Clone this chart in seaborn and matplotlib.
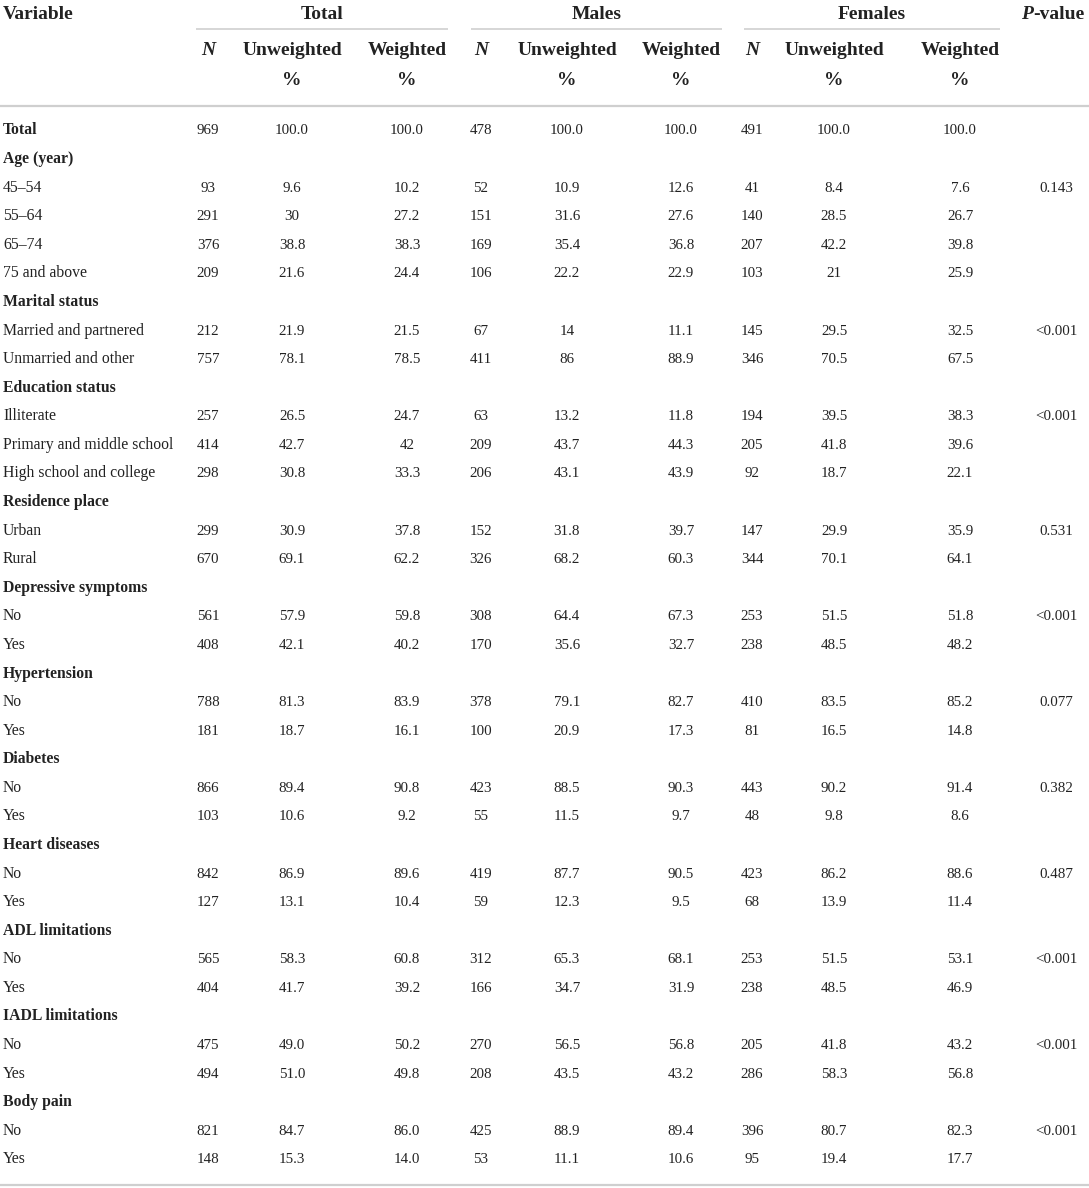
import matplotlib
matplotlib.use("Agg")
import matplotlib.pyplot as plt
import seaborn as sns

# row labels of the table, section rows have no values
row_labels = ["Total", "Age (year)", "45–54", "55–64", "65–74", "75 and above",
              "Marital status", "Married and partnered", "Unmarried and other",
              "Education status", "Illiterate", "Primary and middle school", "High school and college",
              "Residence place", "Urban", "Rural",
              "Depressive symptoms", "No", "Yes",
              "Hypertension", "No", "Yes",
              "Diabetes", "No", "Yes",
              "Heart diseases", "No", "Yes",
              "ADL limitations", "No", "Yes",
              "IADL limitations", "No", "Yes",
              "Body pain", "No", "Yes"]
bold_rows = ["Total", "Age (year)", "Marital status", "Education status", "Residence place",
             "Depressive symptoms", "Hypertension", "Diabetes", "Heart diseases",
             "ADL limitations", "IADL limitations", "Body pain"]

# Total
total_n = ["969", "", "93", "291", "376", "209", "", "212", "757", "", "257", "414", "298", "", "299", "670",
           "", "561", "408", "", "788", "181", "", "866", "103", "", "842", "127", "", "565", "404", "", "475", "494",
           "", "821", "148"]
total_unw = ["100.0", "", "9.6", "30", "38.8", "21.6", "", "21.9", "78.1", "", "26.5", "42.7", "30.8", "", "30.9", "69.1",
             "", "57.9", "42.1", "", "81.3", "18.7", "", "89.4", "10.6", "", "86.9", "13.1", "", "58.3", "41.7", "", "49.0", "51.0",
             "", "84.7", "15.3"]
total_w = ["100.0", "", "10.2", "27.2", "38.3", "24.4", "", "21.5", "78.5", "", "24.7", "42", "33.3", "", "37.8", "62.2",
           "", "59.8", "40.2", "", "83.9", "16.1", "", "90.8", "9.2", "", "89.6", "10.4", "", "60.8", "39.2", "", "50.2", "49.8",
           "", "86.0", "14.0"]

# Males
male_n = ["478", "", "52", "151", "169", "106", "", "67", "411", "", "63", "209", "206", "", "152", "326",
          "", "308", "170", "", "378", "100", "", "423", "55", "", "419", "59", "", "312", "166", "", "270", "208",
          "", "425", "53"]
male_unw = ["100.0", "", "10.9", "31.6", "35.4", "22.2", "", "14", "86", "", "13.2", "43.7", "43.1", "", "31.8", "68.2",
            "", "64.4", "35.6", "", "79.1", "20.9", "", "88.5", "11.5", "", "87.7", "12.3", "", "65.3", "34.7", "", "56.5", "43.5",
            "", "88.9", "11.1"]
male_w = ["100.0", "", "12.6", "27.6", "36.8", "22.9", "", "11.1", "88.9", "", "11.8", "44.3", "43.9", "", "39.7", "60.3",
          "", "67.3", "32.7", "", "82.7", "17.3", "", "90.3", "9.7", "", "90.5", "9.5", "", "68.1", "31.9", "", "56.8", "43.2",
          "", "89.4", "10.6"]

# Females
female_n = ["491", "", "41", "140", "207", "103", "", "145", "346", "", "194", "205", "92", "", "147", "344",
            "", "253", "238", "", "410", "81", "", "443", "48", "", "423", "68", "", "253", "238", "", "205", "286",
            "", "396", "95"]
female_unw = ["100.0", "", "8.4", "28.5", "42.2", "21", "", "29.5", "70.5", "", "39.5", "41.8", "18.7", "", "29.9", "70.1",
              "", "51.5", "48.5", "", "83.5", "16.5", "", "90.2", "9.8", "", "86.2", "13.9", "", "51.5", "48.5", "", "41.8", "58.3",
              "", "80.7", "19.4"]
female_w = ["100.0", "", "7.6", "26.7", "39.8", "25.9", "", "32.5", "67.5", "", "38.3", "39.6", "22.1", "", "35.9", "64.1",
            "", "51.8", "48.2", "", "85.2", "14.8", "", "91.4", "8.6", "", "88.6", "11.4", "", "53.1", "46.9", "", "43.2", "56.8",
            "", "82.3", "17.7"]

p_values = ["", "", "0.143", "", "", "", "", "<0.001", "", "", "<0.001", "", "", "", "0.531", "",
            "", "<0.001", "", "", "0.077", "", "", "0.382", "", "", "0.487", "", "", "<0.001", "", "", "<0.001", "",
            "", "<0.001", ""]

groups = ["Total", "Males", "Females"]
sub_headers = ["Unweighted", "Weighted"]

sns.set_theme(style="white")
plt.rcParams['font.family'] = ['Liberation Serif', 'DejaVu Serif']

fig = plt.figure(figsize=(10.89, 11.88), dpi=100)
ax = fig.add_axes([0, 0, 1, 1])
ax.set_xlim(0, 1089)
ax.set_ylim(1188, 0)
ax.axis('off')

txt = '#222222'
rule = '#cfcfcf'
head_fs = 14
label_fs = 11.3
num_fs = 10.8

# column layout (centres in pixels)
col_x = [[208, 292, 407], [481, 567, 681], [752, 834, 960]]
group_span = [(196, 448), (471, 722), (744, 1000)]
p_x = 1056

# header (baseline aligned)
hb1, hb2, hb3 = 19, 55, 85
ax.text(3, hb1, "Variable", fontsize=head_fs, fontweight='bold', color=txt, va='baseline', ha='left')
for g, name in enumerate(groups):
    x0, x1 = group_span[g]
    ax.text((x0 + x1) / 2, hb1, name, fontsize=head_fs, fontweight='bold', color=txt, va='baseline', ha='center')
    ax.hlines(29, x0, x1, color=rule, lw=1.2)
    ax.text(col_x[g][0], hb2, "N", fontsize=head_fs, fontweight='bold', style='italic', color=txt,
            va='baseline', ha='center')
    for k, sh in enumerate(sub_headers):
        ax.text(col_x[g][k + 1], hb2, sh, fontsize=head_fs, fontweight='bold', color=txt,
                va='baseline', ha='center')
        ax.text(col_x[g][k + 1], hb3, "%", fontsize=head_fs, fontweight='bold', color=txt,
                va='baseline', ha='center')
tp = ax.text(1021, hb1, "P", fontsize=head_fs, fontweight='bold', style='italic', color=txt,
             va='baseline', ha='left')
ax.annotate("-value", xy=(1, 0), xycoords=tp, fontsize=head_fs, fontweight='bold', color=txt,
            va='bottom', ha='left')

ax.hlines(106, 0, 1089, color=rule, lw=1.6)
ax.hlines(1185, 0, 1089, color=rule, lw=1.6)

# body
columns = [[total_n, total_unw, total_w], [male_n, male_unw, male_w], [female_n, female_unw, female_w]]
y0, dy = 134.5, 28.58
for i, label in enumerate(row_labels):
    y = y0 + i * dy
    weight = 'bold' if (label in bold_rows and total_n[i] == "") or i == 0 else 'normal'
    ax.text(3, y, label, fontsize=label_fs, fontweight=weight, color=txt, va='baseline', ha='left')
    for g in range(3):
        for k in range(3):
            ax.text(col_x[g][k], y, columns[g][k][i], fontsize=num_fs, color=txt, va='baseline', ha='center')
    ax.text(p_x, y, p_values[i], fontsize=num_fs, color=txt, va='baseline', ha='center')

fig.savefig("out.png", dpi=100)
